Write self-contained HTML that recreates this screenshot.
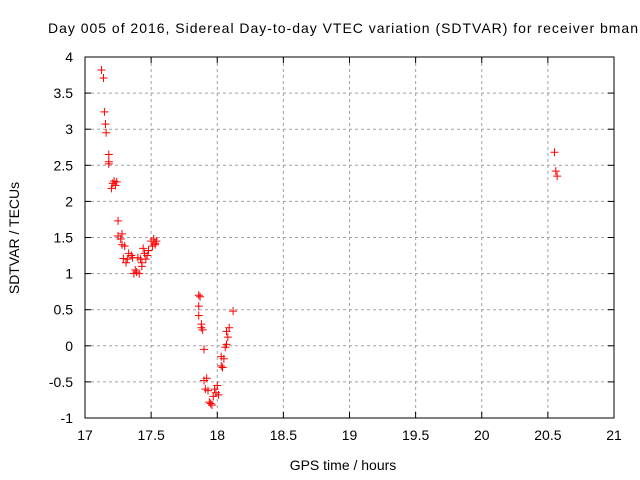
<!DOCTYPE html>
<html><head><meta charset="utf-8"><style>body{margin:0;background:#fff}svg{display:block;font-family:"Liberation Sans",sans-serif}</style></head>
<body>
<svg id="c" width="640" height="480"></svg>
<script>
const xTicks=[17,17.5,18,18.5,19,19.5,20,20.5,21];
const xTickLabels=["17","17.5","18","18.5","19","19.5","20","20.5","21"];
const yTicks=[-1,-0.5,0,0.5,1,1.5,2,2.5,3,3.5,4];
const yTickLabels=["-1","-0.5","0","0.5","1","1.5","2","2.5","3","3.5","4"];
const times=[17.125,17.14,17.147,17.155,17.16,17.18,17.18,17.18,17.2,17.21,17.22,17.23,17.24,17.25,17.25,17.27,17.28,17.28,17.3,17.29,17.32,17.33,17.31,17.35,17.36,17.37,17.38,17.4,17.41,17.42,17.43,17.44,17.45,17.46,17.47,17.48,17.5,17.51,17.52,17.53,17.54,17.53,17.43,17.39,
17.86,17.87,17.86,17.86,17.88,17.88,17.89,17.9,17.9,17.91,17.92,17.93,17.94,17.95,17.96,17.97,17.98,17.99,18,18.01,18.03,18.04,18.03,18.05,18.06,18.07,18.08,18.07,18.09,18.12,
20.55,20.56,20.57];
const sdtvar=[3.82,3.71,3.24,3.07,2.95,2.65,2.55,2.52,2.18,2.25,2.28,2.22,2.27,1.73,1.52,1.48,1.55,1.40,1.38,1.21,1.2,1.28,1.15,1.25,1.22,1.0,1.05,1.22,1.0,1.2,1.1,1.35,1.28,1.2,1.25,1.32,1.45,1.38,1.48,1.42,1.45,1.4,1.15,1.02,
0.7,0.68,0.55,0.42,0.3,0.25,0.22,-0.05,-0.48,-0.6,-0.45,-0.62,-0.78,-0.8,-0.82,-0.7,-0.6,-0.65,-0.55,-0.68,-0.28,-0.3,-0.15,-0.18,-0.02,0.02,0.12,0.2,0.25,0.48,
2.68,2.42,2.35];
const L=85,R=614,T=57,B=418;
const sx=v=>L+(v-17)/4*(R-L), sy=v=>B-(v+1)/5*(B-T);
const svg=document.getElementById('c'),NS='http://www.w3.org/2000/svg';
function mk(t,a,p){const e=document.createElementNS(NS,t);for(const k in a)e.setAttribute(k,a[k]);(p||svg).appendChild(e);return e;}
xTicks.forEach((v,i)=>{const x=sx(v);
 if(i>0&&i<xTicks.length-1){const g=mk('line',{x1:x,x2:x,y1:T,y2:B,stroke:'#a0a0a0','stroke-dasharray':'3,3'});
 
 }
 mk('line',{x1:x,x2:x,y1:B,y2:B-6,stroke:'#000'});mk('line',{x1:x,x2:x,y1:T,y2:T+6,stroke:'#000'});
 const t=mk('text',{x:x,y:B+22,'text-anchor':'middle','font-size':'14'});t.textContent=xTickLabels[i];
 
 });
yTicks.forEach((v,i)=>{const y=sy(v);
 if(i>0&&i<yTicks.length-1){const g=mk('line',{x1:L,x2:R,y1:y,y2:y,stroke:'#a0a0a0','stroke-dasharray':'3,3'});
 
 }
 mk('line',{x1:L,x2:L+6,y1:y,y2:y,stroke:'#000'});mk('line',{x1:R,x2:R-6,y1:y,y2:y,stroke:'#000'});
 const t=mk('text',{x:L-12,y:y+5,'text-anchor':'end','font-size':'14'});t.textContent=yTickLabels[i];
 
 });
const fr=mk('rect',{x:L,y:T,width:R-L,height:B-T,fill:'none',stroke:'#000'});


times.forEach((v,i)=>{const x=sx(v),y=sy(sdtvar[i]);
 const p=mk('path',{d:`M${x-4},${y}H${x+4}M${x},${y-4}V${y+4}`,stroke:'#f00','stroke-width':'1'});
 
 });
const ti=mk('text',{x:343,y:33,'text-anchor':'middle','font-size':'14',textLength:'590'});ti.textContent='Day 005 of 2016, Sidereal Day-to-day VTEC variation (SDTVAR) for receiver bman';


const xl=mk('text',{x:343,y:470,'text-anchor':'middle','font-size':'14'});xl.textContent='GPS time / hours';


const yl=mk('text',{x:0,y:0,'text-anchor':'middle','font-size':'14',transform:'translate(19,238) rotate(-90)'});yl.textContent='SDTVAR / TECUs';


</script>
</body></html>
